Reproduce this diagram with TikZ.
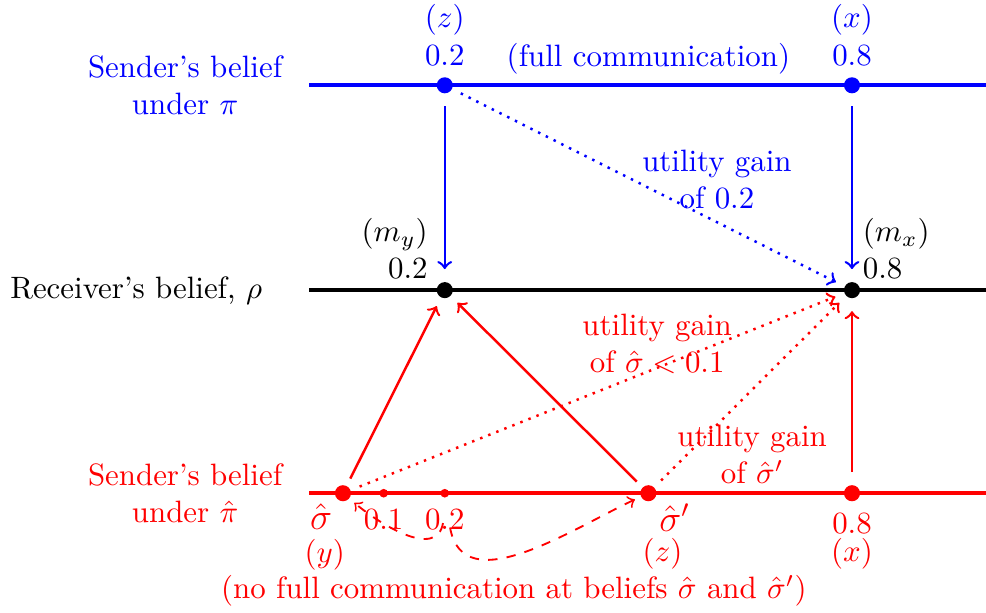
\documentclass[tikz,border=0pt]{standalone}
\usepackage{amsmath,amssymb}
\usepackage{tikz}
\usetikzlibrary{positioning,calc}

\begin{document}
\begin{tikzpicture}[
    axisline/.style={line width=1.3pt},
    bigdot/.style={circle, fill, inner sep=0pt, minimum size=5.2pt},
    smalldot/.style={circle, fill, inner sep=0pt, minimum size=2.8pt},
    move/.style={->, thick, shorten <=4pt, shorten >=4pt},
    slant/.style={->, thick, shorten <=2.5pt, shorten >=3pt},
    gain/.style={->, dotted, thick, shorten <=3pt, shorten >=3pt},
    swap/.style={->, dashed, semithick, shorten >=2pt},
    side/.style={align=center}
]
    \useasboundingbox (-3.515,-3.663) rectangle (7.70,3.30);

    % Axes
    \coordinate (blue_l) at (0,2.33);  \coordinate (blue_r) at (7.72,2.33);
    \coordinate (rec_l) at (0,0);      \coordinate (rec_r) at (7.72,0);
    \coordinate (red_l) at (0,-2.31);  \coordinate (red_r) at (7.72,-2.31);
    \draw[axisline, blue] (blue_l) -- (blue_r);
    \draw[axisline] (rec_l) -- (rec_r);
    \draw[axisline, red] (red_l) -- (red_r);

    % Side labels
    \node[side, blue, left=0.18cm of blue_l] (sender) {Sender's belief\\under $\pi$};
    \node[left=0.41cm of rec_l] (receiver) {Receiver's belief, $\rho$};
    \node[side, red, left=0.18cm of red_l] (sender_hat) {Sender's belief\\under $\hat{\pi}$};

    % Sender under pi
    \node[bigdot, blue] (bz) at (1.544,2.33) {};
    \node[bigdot, blue] (bx) at (6.176,2.33) {};
    \node[side, blue, above=0pt of bz] (lbz) {$(z)$\\0.2};
    \node[side, blue, above=0pt of bx] (lbx) {$(x)$\\0.8};
    \node[blue, above] (full) at (3.86,2.33) {(full communication)};

    % Receiver
    \node[bigdot] (kz) at (1.544,0) {};
    \node[bigdot] (kx) at (6.176,0) {};
    \node[align=right, anchor=south east, xshift=-2pt] (lkz) at (kz.center) {$(m_y)$\\0.2};
    \node[align=left, anchor=south west] (lkx) at (kx.center) {$(m_x)$\\0.8};

    % Sender under pi hat
    \node[bigdot, red] (rs) at (0.386,-2.31) {};
    \node[smalldot, red] (rone) at (0.849,-2.31) {};
    \node[smalldot, red] (rtwo) at (1.544,-2.31) {};
    \node[bigdot, red] (rsp) at (3.86,-2.31) {};
    \node[bigdot, red] (rx) at (6.176,-2.31) {};
    \node[red, font=\large, anchor=north east] (shat) at (rs.center) {$\hat{\sigma}$};
    \node[red, font=\large, anchor=north west] (shatp) at (rsp.center) {$\hat{\sigma}'$};
    \node[red, below=0pt of rone] (lone) {0.1};
    \node[red, below=0pt of rtwo] (ltwo) {0.2};
    \node[red, below=0pt of rx] (lrx) {0.8};
    \node[red] (ly) at (0.18,-3.01) {$(y)$};
    \node[red] (lz) at (4.02,-3.00) {$(z)$};
    \node[red] (lx) at (6.176,-3.00) {$(x)$};
    \node[red] (note) at (2.33,-3.42) {(no full communication at beliefs $\hat{\sigma}$ and $\hat{\sigma}'$)};

    % Utility gains
    \node[blue, align=center] (gain_b) at (4.64,1.26) {utility gain\\of 0.2};
    \node[red, align=center] (gain_s) at (3.96,-0.61) {utility gain\\of $\hat{\sigma}<0.1$};
    \node[red, align=center] (gain_sp) at (5.04,-1.87) {utility gain\\of $\hat{\sigma}'$};

    % Edges
    \draw[move, blue] (bz) -- (kz);
    \draw[move, blue] (bx) -- (kx);
    \draw[gain, blue] (bz) -- (kx);
    \draw[slant, red] (rs) -- (kz);
    \draw[slant, red] (rsp) -- (kz);
    \draw[move, red] (rx) -- (kx);
    \draw[gain, red] (rs) -- (kx);
    \draw[gain, red] (rsp) -- (kx);

    % Swaps
    \coordinate (sw_a) at (1.524,-2.65);
    \coordinate (sw_b) at (1.604,-2.70);
    \draw[swap, red] (sw_a) to[out=-100, in=-40] (rs);
    \draw[swap, red] (sw_b) to[out=-80, in=-155] (rsp);
\end{tikzpicture}
\end{document}
